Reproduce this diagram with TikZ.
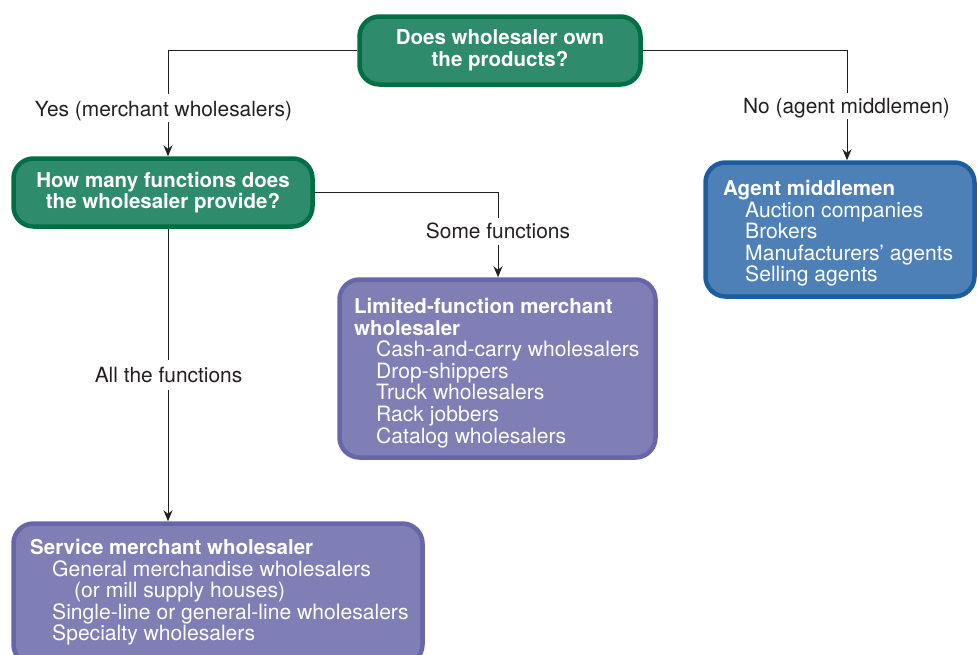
\documentclass[tikz,border=0pt]{standalone}
\usepackage{fontspec}
\setmainfont{TeX Gyre Heros}
\usetikzlibrary{arrows.meta}
\definecolor{gfill}{HTML}{2E8B6B}
\definecolor{gline}{HTML}{006F45}
\definecolor{bfill}{HTML}{4E80B8}
\definecolor{bline}{HTML}{1D5C9E}
\definecolor{pfill}{HTML}{7F7EB5}
\definecolor{pline}{HTML}{6766A8}
\definecolor{ink}{HTML}{231F20}
\newcommand{\hd}[1]{{\fontsize{20.5}{21.6}\selectfont\bfseries #1}}
\begin{document}
\begin{tikzpicture}[x=1pt,y=-1pt,
  base/.style={rounded corners=20pt, line width=4.5pt, inner sep=0pt},
  gbox/.style={base, fill=gfill, draw=gline, text=white, align=center,
    font=\bfseries\fontsize{20.5}{21.5}\selectfont},
  bbox/.style={base, fill=bfill, draw=bline},
  pbox/.style={base, fill=pfill, draw=pline},
  listtext/.style={anchor=north west, inner sep=0pt, align=left, text=white,
    font=\fontsize{21.1}{21.6}\selectfont},
  lbl/.style={anchor=base, inner sep=0pt, text=ink, font=\fontsize{20.9}{21.5}\selectfont},
  conn/.style={draw=ink, line width=1pt},
  arr/.style={conn, -{Stealth[length=11pt,width=9pt]}}
]
\useasboundingbox (0,0) rectangle (977,654);
\clip (0,0) rectangle (977,654);

% boxes
\node[gbox, minimum width=281pt, minimum height=68pt] (q1) at (500,50.5)
  {Does wholesaler own\\the products?};
\node[gbox, minimum width=299pt, minimum height=68pt] (q2) at (163,192.5)
  {How many functions does\\the wholesaler provide?};
\node[bbox, minimum width=269pt, minimum height=134pt] (am) at (840,229.5) {};
\node[pbox, minimum width=316pt, minimum height=178pt] (lf) at (497.5,368.5) {};
\node[pbox, minimum width=409pt, minimum height=141pt] (sm) at (218,594) {};

% box texts
\node[listtext] (amt) at (723,180)
  {\hd{Agent middlemen}\\
   \hspace*{22pt}Auction companies\\
   \hspace*{22pt}Brokers\\
   \hspace*{22pt}Manufacturers’ agents\\
   \hspace*{22pt}Selling agents};
\node[listtext] (lft) at (354,298)
  {\hd{Limited-function merchant}\\
   \hd{wholesaler}\\
   \hspace*{22pt}Cash-and-carry wholesalers\\
   \hspace*{22pt}Drop-shippers\\
   \hspace*{22pt}Truck wholesalers\\
   \hspace*{22pt}Rack jobbers\\
   \hspace*{22pt}Catalog wholesalers};
\node[listtext] (smt) at (30,539)
  {\hd{Service merchant wholesaler}\\
   \hspace*{22pt}General merchandise wholesalers\\
   \hspace*{44pt}(or mill supply houses)\\
   \hspace*{22pt}Single-line or general-line wholesalers\\
   \hspace*{22pt}Specialty wholesalers};

% labels
\node[lbl] (yes) at (163.5,116) {Yes (merchant wholesalers)};
\node[lbl] (no) at (846.5,113) {No (agent middlemen)};
\node[lbl] (some) at (498,238) {Some functions};
\node[lbl] (all) at (168.5,382) {All the functions};

% connector helper coordinates
\coordinate (yesA) at (168,94);
\coordinate (yesB) at (168,122);
\coordinate (noA) at (847,93);
\coordinate (noB) at (847,119);
\coordinate (someA) at (498,218);
\coordinate (someB) at (498,245);
\coordinate (allT) at (168,228);
\coordinate (allA) at (168,360);
\coordinate (allB) at (168,390);

% connectors
\draw[conn] (q1.west) -| (yesA);
\draw[arr] (yesB) -- (yesB |- q2.north);
\draw[conn] (q1.east) -| (noA);
\draw[arr] (noB) -- (noB |- am.north);
\draw[conn] (q2.east) -| (someA);
\draw[arr] (someB) -- (someB |- lf.north);
\draw[conn] (allT |- q2.south) -- (allA);
\draw[arr] (allB) -- (allB |- sm.north);
\end{tikzpicture}
\end{document}
